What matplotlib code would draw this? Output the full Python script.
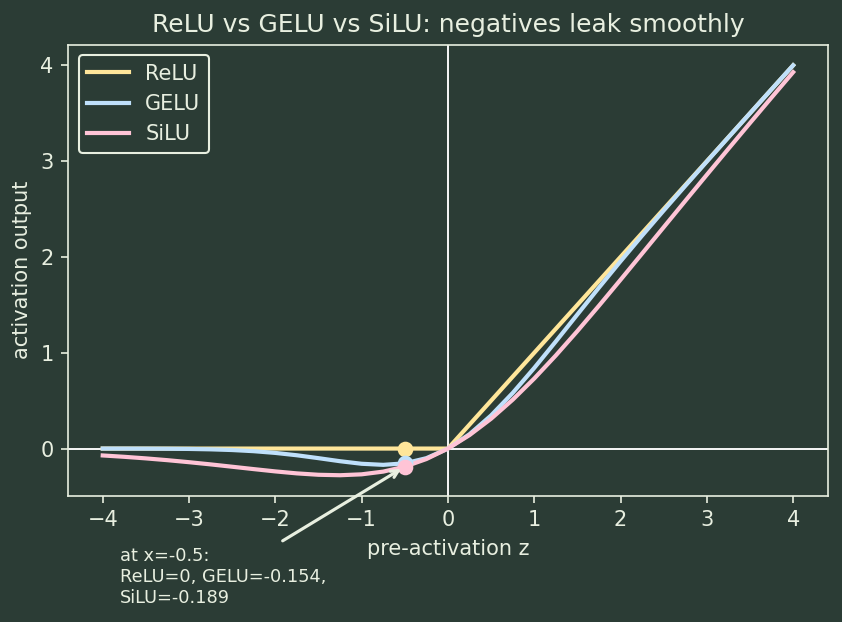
import numpy as np
import matplotlib
matplotlib.use("Agg")
import matplotlib.pyplot as plt

z = [-4.0, -3.75, -3.5, -3.25, -3.0, -2.75, -2.5, -2.25, -2.0, -1.75, -1.5, -1.25,
     -1.0, -0.75, -0.5, -0.25, 0.0, 0.25, 0.5, 0.75, 1.0, 1.25, 1.5, 1.75,
     2.0, 2.25, 2.5, 2.75, 3.0, 3.25, 3.5, 3.75, 4.0]
relu = [0, 0, 0, 0, 0, 0, 0, 0, 0, 0, 0, 0,
        0, 0, 0, 0, 0, 0.25, 0.5, 0.75, 1.0, 1.25, 1.5, 1.75,
        2.0, 2.25, 2.5, 2.75, 3.0, 3.25, 3.5, 3.75, 4.0]
gelu = [-0.0001, -0.0003, -0.0008, -0.0019, -0.0040, -0.0082, -0.0155, -0.0275,
        -0.0455, -0.0701, -0.1002, -0.1321, -0.1587, -0.1700, -0.1543, -0.1003,
        0.0, 0.1497, 0.3457, 0.5800, 0.8413, 1.1179, 1.3998, 1.6799,
        1.9545, 2.2225, 2.4845, 2.7418, 2.9960, 3.2481, 3.4992, 3.7497, 3.9999]
silu = [-0.0719, -0.0861, -0.1026, -0.1213, -0.1423, -0.1652, -0.1897, -0.2145,
        -0.2384, -0.2591, -0.2736, -0.2784, -0.2689, -0.2406, -0.1888, -0.1095,
        0.0, 0.1405, 0.3112, 0.5094, 0.7311, 0.9716, 1.2264, 1.4909,
        1.7616, 2.0355, 2.3103, 2.5848, 2.8577, 3.1287, 3.3974, 3.6639, 3.9281]

probe_x = -0.5
probe_vals = [0.0, -0.154, -0.189]

bg = "#2b3c35"
fg = "#e8efe0"
colors = ["#ffe69a", "#bfe0fb", "#ffc4d6"]

plt.rcParams["font.family"] = ["DejaVu Sans"]
fig, ax = plt.subplots(figsize=(842 / 150, 622 / 150), dpi=150)
fig.patch.set_facecolor(bg)
ax.set_facecolor(bg)
fig.subplots_adjust(left=0.081, right=0.983, top=0.928, bottom=0.203)

ax.axhline(0, color="white", lw=0.9, zorder=1)
ax.axvline(0, color="white", lw=0.9, zorder=1)

for name, ys, c in zip(["ReLU", "GELU", "SiLU"], [relu, gelu, silu], colors):
    ax.plot(z, ys, color=c, lw=2, label=name, zorder=2)
for v, c in zip(probe_vals, colors):
    ax.plot([probe_x], [v], "o", color=c, ms=6.5, zorder=3)

ax.annotate("at x=-0.5:\nReLU=0, GELU=-0.154,\nSiLU=-0.189",
            xy=(probe_x, probe_vals[2]), xytext=(-3.8, -1.34),
            ha="left", va="center", fontsize=8.5, color=fg,
            arrowprops=dict(arrowstyle="->", color=fg, lw=1.5),
            annotation_clip=False)

ax.set_title("ReLU vs GELU vs SiLU: negatives leak smoothly", color=fg, fontsize=12)
ax.set_xlabel("pre-activation z", color=fg, fontsize=10)
ax.set_ylabel("activation output", color=fg, fontsize=10)
ax.tick_params(colors=fg, labelsize=10)
for s in ax.spines.values():
    s.set_color(fg)

leg = ax.legend(loc="upper left", fontsize=10, facecolor=bg, edgecolor=fg, framealpha=1)
for t in leg.get_texts():
    t.set_color(fg)

fig.savefig("out.png", dpi=150, facecolor=bg)
